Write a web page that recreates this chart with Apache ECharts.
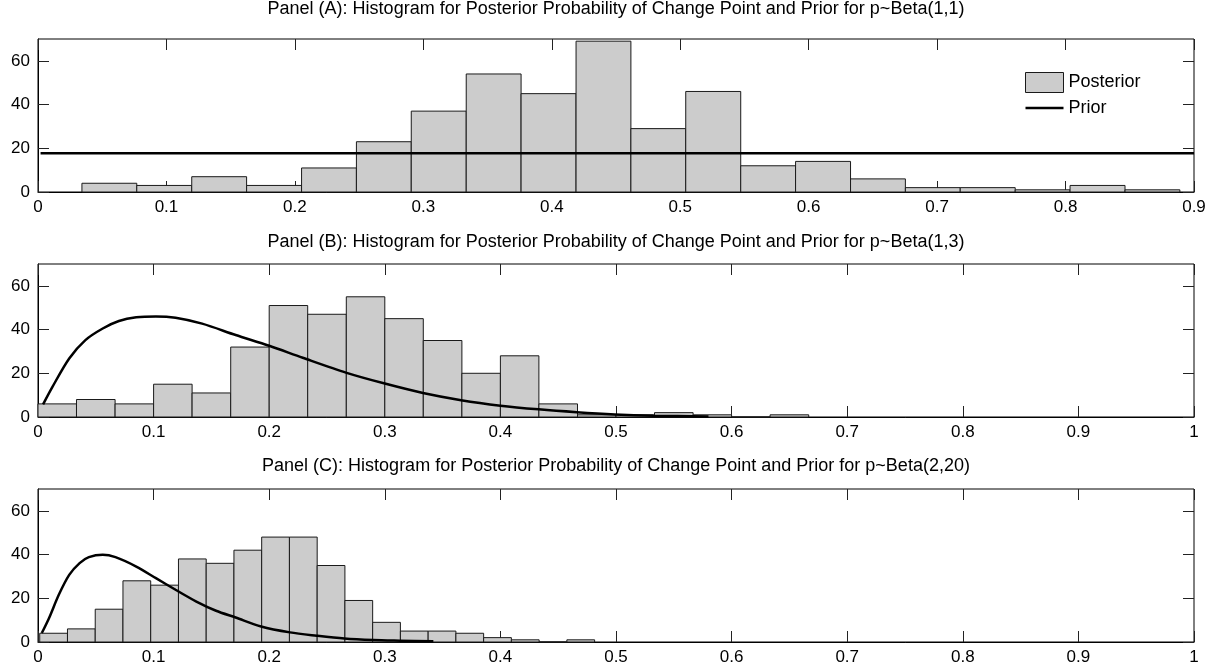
<!DOCTYPE html>
<html>
<head>
<meta charset="utf-8">
<title>Posterior histograms</title>
<script src="https://cdn.jsdelivr.net/npm/echarts@6/dist/echarts.min.js"></script>
<style>
  html, body { margin: 0; padding: 0; background: #fff; }
  #main { width: 1216px; height: 671px; }
</style>
</head>
<body>
<div id="main"></div>
<script>
// panel titles
var titles = [
    'Panel (A): Histogram for Posterior Probability of Change Point and Prior for p~Beta(1,1)',
    'Panel (B): Histogram for Posterior Probability of Change Point and Prior for p~Beta(1,3)',
    'Panel (C): Histogram for Posterior Probability of Change Point and Prior for p~Beta(2,20)'
];

// bin edges (21 edges -> 20 bins) and counts
var edgesA = [0.0342, 0.0769, 0.1197, 0.1624, 0.2052, 0.2479, 0.2906, 0.3334, 0.3761, 0.4189, 0.4616,
    0.5043, 0.5471, 0.5898, 0.6326, 0.6753, 0.7180, 0.7608, 0.8035, 0.8463, 0.8890];
var countsA = [4, 3, 7, 3, 11, 23, 37, 54, 45, 69, 29, 46, 12, 14, 6, 2, 2, 1, 3, 1];

var edgesB = [0, 0.0333, 0.0667, 0.1, 0.1333, 0.1667, 0.2, 0.2333, 0.2667, 0.3, 0.3333,
    0.3667, 0.4, 0.4333, 0.4667, 0.5, 0.5333, 0.5667, 0.6, 0.6333, 0.6667];
var countsB = [6, 8, 6, 15, 11, 32, 51, 47, 55, 45, 35, 20, 28, 6, 1, 1, 2, 1, 0, 1];

var edgesC = [0.0015, 0.0255, 0.0495, 0.0735, 0.0975, 0.1215, 0.1455, 0.1695, 0.1935, 0.2175, 0.2415,
    0.2655, 0.2895, 0.3135, 0.3375, 0.3615, 0.3855, 0.4095, 0.4335, 0.4575, 0.4815];
var countsC = [4, 6, 15, 28, 26, 38, 36, 42, 48, 48, 35, 19, 9, 5, 5, 4, 2, 1, 0, 1];

// prior curves [p, scaled density]
var priorA = [[0.002, 17.7], [0.9, 17.7]];
var priorB = [[0.0044, 5.8], [0.0125, 13.8], [0.027, 26.8], [0.041, 35.2], [0.056, 40.5], [0.070, 43.9],
    [0.085, 45.6], [0.102, 46.0], [0.119, 45.4], [0.142, 42.7], [0.171, 37.5], [0.200, 32.6],
    [0.229, 27.1], [0.267, 20.2], [0.300, 15.3], [0.333, 11.0], [0.366, 7.7], [0.400, 5.2],
    [0.433, 3.5], [0.466, 2.2], [0.499, 1.2], [0.532, 0.6], [0.580, 0.2]];
var priorC = [[0.0033, 4.1], [0.0096, 11.0], [0.018, 21.6], [0.027, 30.7], [0.036, 36.1], [0.044, 38.8],
    [0.056, 39.9], [0.067, 38.8], [0.085, 34.5], [0.102, 29.2], [0.119, 23.9], [0.137, 18.5],
    [0.154, 14.3], [0.171, 11.2], [0.193, 7.1], [0.218, 4.4], [0.241, 2.9], [0.265, 1.6],
    [0.290, 0.9], [0.313, 0.6], [0.342, 0.3]];

var xMax = [0.9, 1, 1];
var yTicks = [0, 20, 40, 60];

var FONT = '"Liberation Sans", Arial, Helvetica, sans-serif';
var chart = echarts.init(document.getElementById('main'));

// bins as [start, end, count]
function binData(edges, counts) {
    var out = [];
    for (var i = 0; i < counts.length; i++) {
        out.push([edges[i], edges[i + 1], counts[i]]);
    }
    return out;
}

function renderBar(params, api) {
    var p0 = api.coord([api.value(0), 0]);
    var p1 = api.coord([api.value(1), api.value(2)]);
    return {
        type: 'rect',
        shape: { x: p0[0], y: p1[1], width: p1[0] - p0[0], height: p0[1] - p1[1] },
        style: { fill: '#cccccc', stroke: '#1a1a1a', lineWidth: 1 }
    };
}

var gridTops = [39, 264, 489];
var titleTops = [0, 233, 457];
var bins = [binData(edgesA, countsA), binData(edgesB, countsB), binData(edgesC, countsC)];
var priors = [priorA, priorB, priorC];

var option = {
    animation: false,
    backgroundColor: '#fff',
    textStyle: { fontFamily: FONT },
    title: [],
    grid: [],
    xAxis: [],
    yAxis: [],
    series: [],
    legend: {
        data: [
            { name: 'Posterior', icon: 'rect', itemStyle: { color: '#cccccc', borderColor: '#1a1a1a', borderWidth: 1 } },
            { name: 'Prior', icon: 'path://M0,0H38V2.5H0Z', itemStyle: { color: '#000', borderWidth: 0 } }
        ],
        orient: 'vertical',
        left: 1025,
        top: 72,
        padding: 0,
        itemWidth: 38,
        itemHeight: 20,
        itemGap: 6,
        selectedMode: false,
        textStyle: { fontSize: 18, color: '#000', fontFamily: FONT }
    }
};

for (var k = 0; k < 3; k++) {
    // titles centred over the plot box (38..1194), not the page
    option.title.push({
        text: titles[k],
        left: 616,
        textAlign: 'center',
        top: titleTops[k],
        padding: 0,
        textStyle: { fontSize: 18, fontWeight: 'normal', color: '#000', fontFamily: FONT }
    });
    option.grid.push({
        left: 38, right: 22, top: gridTops[k], height: 153,
        show: true, borderColor: '#000', borderWidth: 1, backgroundColor: '#fff'
    });
    // bottom + top x axes
    option.xAxis.push({
        type: 'value', gridIndex: k, min: 0, max: xMax[k], interval: 0.1, position: 'bottom',
        axisLine: { show: true, onZero: false, lineStyle: { color: '#000', width: 1 } },
        axisTick: { inside: true, length: 11, lineStyle: { color: '#222' } },
        axisLabel: { fontSize: 17, color: '#000', margin: 7, fontFamily: FONT },
        splitLine: { show: false }
    });
    option.xAxis.push({
        type: 'value', gridIndex: k, min: 0, max: xMax[k], interval: 0.1, position: 'top',
        axisLine: { show: false, onZero: false },
        axisTick: { inside: true, length: 11, lineStyle: { color: '#222' } },
        axisLabel: { show: false },
        splitLine: { show: false }
    });
    // left + right y axes
    option.yAxis.push({
        type: 'value', gridIndex: k, min: 0, max: 70, interval: 20, position: 'left',
        axisLine: { show: true, onZero: false, lineStyle: { color: '#000', width: 1 } },
        axisTick: { inside: true, length: 11, customValues: yTicks, lineStyle: { color: '#222' } },
        axisLabel: { fontSize: 17, color: '#000', margin: 8, customValues: yTicks, fontFamily: FONT },
        splitLine: { show: false }
    });
    option.yAxis.push({
        type: 'value', gridIndex: k, min: 0, max: 70, interval: 20, position: 'right',
        axisLine: { show: false, onZero: false },
        axisTick: { inside: true, length: 11, customValues: yTicks, lineStyle: { color: '#222' } },
        axisLabel: { show: false },
        splitLine: { show: false }
    });

    option.series.push({
        name: 'Posterior',
        type: 'custom',
        xAxisIndex: 2 * k,
        yAxisIndex: 2 * k,
        renderItem: renderBar,
        encode: { x: [0, 1], y: 2 },
        itemStyle: { color: '#cccccc' },
        data: bins[k],
        z: 2
    });
    option.series.push({
        name: 'Prior',
        type: 'line',
        xAxisIndex: 2 * k,
        yAxisIndex: 2 * k,
        symbol: 'none',
        smooth: k === 0 ? false : 0.3,
        lineStyle: { color: '#000', width: 2.5 },
        itemStyle: { color: '#000' },
        data: priors[k],
        z: 3
    });
}

chart.setOption(option);
</script>
</body>
</html>
